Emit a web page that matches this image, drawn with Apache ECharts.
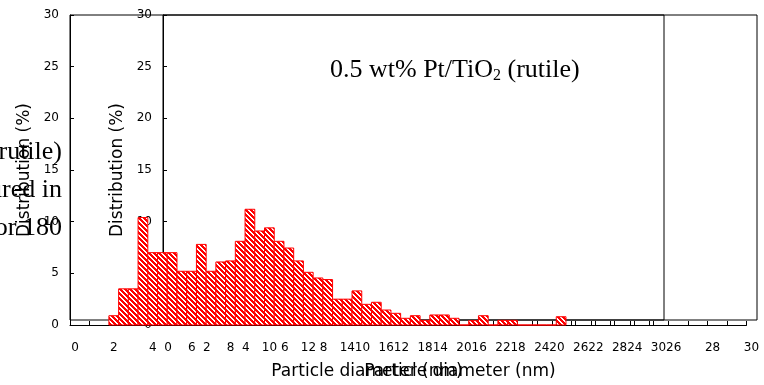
<!DOCTYPE html>
<html>
<head>
<meta charset="utf-8">
<script src="https://cdn.jsdelivr.net/npm/echarts@6/dist/echarts.min.js"></script>
<style>
  html, body { margin: 0; padding: 0; background: #fff; }
  #main { width: 764px; height: 385px; }
</style>
</head>
<body>
<div id="main"></div>
<script>
// bins are 0.5 nm wide, listed by their left edge (nm)
var binStart = [2.0, 2.5, 3.0, 3.5, 4.0, 4.5, 5.0, 5.5, 6.0, 6.5,
                7.0, 7.5, 8.0, 8.5, 9.0, 9.5, 10.0, 10.5, 11.0, 11.5,
                12.0, 12.5, 13.0, 13.5, 14.0, 14.5, 15.0, 15.5, 16.0, 16.5,
                17.0, 17.5, 18.0, 18.5, 19.0, 19.5, 20.0, 20.5, 21.0, 21.5,
                22.0, 22.5, 23.0, 23.5, 24.0, 24.5, 25.0];
var distribution = [0.9, 3.5, 3.5, 10.4, 7.0, 7.0, 7.0, 5.2, 5.2, 7.8,
                    5.2, 6.1, 6.2, 8.1, 11.2, 9.1, 9.4, 8.1, 7.45, 6.2,
                    5.1, 4.55, 4.4, 2.5, 2.5, 3.3, 2.0, 2.2, 1.45, 1.13,
                    0.65, 0.9, 0.45, 0.97, 0.97, 0.65, 0, 0.42, 0.9, 0,
                    0.45, 0.45, 0, 0, 0, 0, 0.8];
var binWidth = 0.5;
var xTicks = [0, 2, 4, 6, 8, 10, 12, 14, 16, 18, 20, 22, 24, 26, 28, 30];
var yTicks = [0, 5, 10, 15, 20, 25, 30];
var captionLines = ['(rutile)', 'ured in', 'for 180'];

// red / white diagonal hatch
var hatch = document.createElement('canvas');
hatch.width = 5; hatch.height = 5;
var hctx = hatch.getContext('2d');
for (var px = 0; px < 5; px++) {
  for (var py = 0; py < 5; py++) {
    hctx.fillStyle = (((px - py) % 5 + 5) % 5) < 3 ? '#ff0000' : '#ffffff';
    hctx.fillRect(px, py, 1, 1);
  }
}

var myChart = echarts.init(document.getElementById('main'));
var font = 'DejaVu Sans';

function plotX(gi) {
  return {
    type: 'value', gridIndex: gi, min: xTicks[0], max: xTicks[xTicks.length - 1], interval: 2,
    axisLine: { show: true, onZero: false, lineStyle: { color: '#000', width: 1 } },
    axisTick: { show: true, inside: true, length: 4, lineStyle: { color: '#000' } },
    minorTick: { show: true, splitNumber: 2, length: 4, lineStyle: { color: '#000' } },
    axisLabel: { color: '#000', fontFamily: font, fontSize: 12, margin: 17, padding: [0, 0, 0, 10] },
    splitLine: { show: false }
  };
}
function frameX(gi) {
  return {
    type: 'value', gridIndex: gi, min: 0, max: 1,
    axisLine: { show: false }, axisTick: { show: false }, axisLabel: { show: false }, splitLine: { show: false },
    name: 'Particle diameter (nm)', nameLocation: 'middle', nameGap: 43,
    nameTextStyle: { color: '#000', fontFamily: font, fontSize: 17 }
  };
}
function plotY(gi) {
  return {
    type: 'value', gridIndex: gi, min: yTicks[0], max: yTicks[yTicks.length - 1], interval: 5,
    axisLine: { show: true, onZero: false, lineStyle: { color: '#000', width: 1 } },
    axisTick: { show: true, inside: true, length: 4, lineStyle: { color: '#000' } },
    axisLabel: { color: '#000', fontFamily: font, fontSize: 12, margin: 11 },
    splitLine: { show: false },
    name: 'Distribution (%)', nameLocation: 'middle', nameGap: 36, nameRotate: 90,
    nameTextStyle: { color: '#000', fontFamily: font, fontSize: 17 }
  };
}
function frameY(gi) {
  return { type: 'value', gridIndex: gi, min: 0, max: 1, show: false };
}

var bars = binStart.map(function (s, i) { return [s, distribution[i]]; });

var captionText = captionLines.map(function (t, i) {
  return {
    type: 'text', x: 62, y: 152 + i * 38, z: -1,
    style: { text: t, fill: '#000', font: '26px "Liberation Serif"', align: 'right', verticalAlign: 'middle' }
  };
});

var option = {
  animation: false,
  backgroundColor: '#fff',
  grid: [
    { left: 70, top: 15, width: 583.5, height: 310 },
    { left: 70, top: 15, width: 594, height: 310, show: true, borderColor: '#000', borderWidth: 1, backgroundColor: 'transparent' },
    { left: 163, top: 15, width: 583.5, height: 310 },
    { left: 163, top: 15, width: 594, height: 310, show: true, borderColor: '#000', borderWidth: 1, backgroundColor: 'transparent' }
  ],
  xAxis: [plotX(0), frameX(1), plotX(2), frameX(3)],
  yAxis: [plotY(0), frameY(1), plotY(2), frameY(3)],
  graphic: captionText.concat([
    {
      type: 'text', x: 330, y: 70, z: 10,
      style: {
        text: '0.5 wt% Pt/TiO{s|2} (rutile)',
        fill: '#000', font: '26px "Liberation Serif"', verticalAlign: 'middle',
        rich: { s: { fontSize: 16, fontFamily: 'Liberation Serif', verticalAlign: 'bottom', padding: [12, 0, 0, 0] } }
      }
    }
  ]),
  series: [
    {
      type: 'custom', xAxisIndex: 0, yAxisIndex: 0, z: 1,
      data: bars,
      renderItem: function (params, api) {
        var p0 = api.coord([api.value(0), 0]);
        var p1 = api.coord([api.value(0) + binWidth, api.value(1)]);
        return {
          type: 'rect',
          shape: { x: p0[0], y: p1[1], width: p1[0] - p0[0], height: p0[1] - p1[1] },
          style: { fill: { image: hatch, repeat: 'repeat' }, stroke: '#ff0000', lineWidth: 1 }
        };
      }
    }
  ]
};
myChart.setOption(option);
</script>
</body>
</html>
